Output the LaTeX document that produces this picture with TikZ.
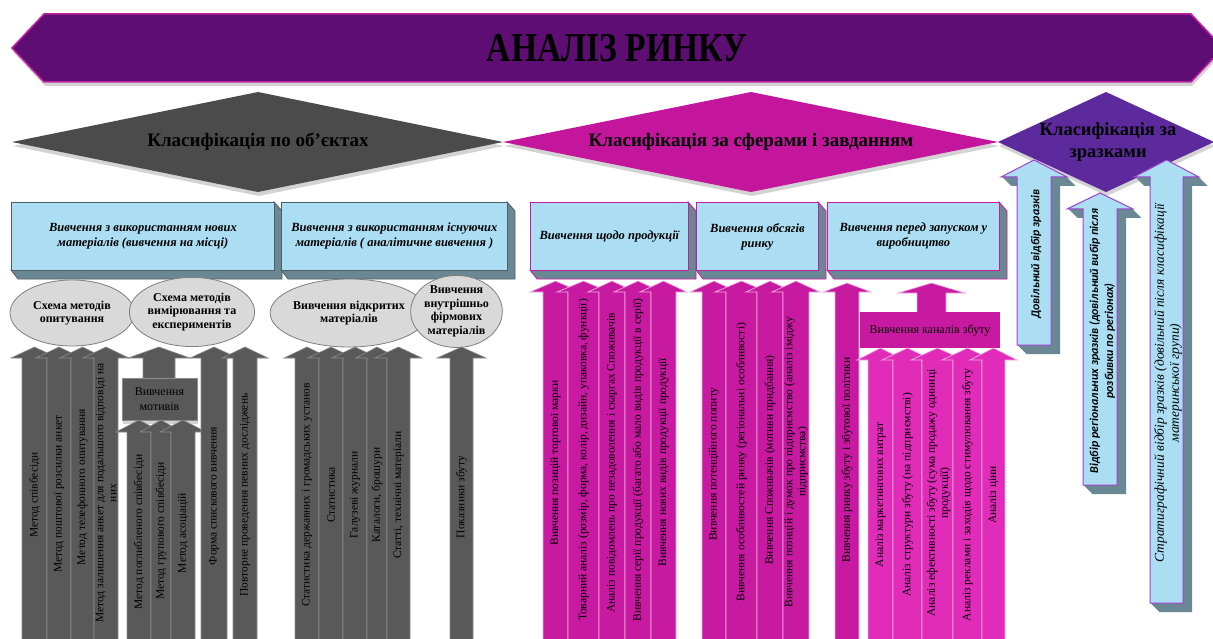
\documentclass[tikz,border=0pt]{standalone}
\usepackage{fontspec}
\setmainfont{Liberation Serif}
\newfontfamily\calib{Carlito}
\usetikzlibrary{shapes.geometric,shadows}
\definecolor{banner}{HTML}{5E0D73}
\definecolor{bannerb}{HTML}{C21FA6}
\definecolor{dgray}{HTML}{4B4B4B}
\definecolor{mag}{HTML}{C3169D}
\definecolor{viol}{HTML}{5C2A9D}
\definecolor{lblue}{HTML}{ABDEF2}
\definecolor{ext}{HTML}{6A8893}
\definecolor{agray}{HTML}{595959}
\definecolor{agrayb}{HTML}{8C8C8C}
\definecolor{amag}{HTML}{C81AA0}
\definecolor{amagb}{HTML}{EBB0E0}
\definecolor{amagl}{HTML}{E02CB8}
\definecolor{ellc}{HTML}{D9D9D9}
\definecolor{ellb}{HTML}{7F7F7F}
\definecolor{purb}{HTML}{A040D0}
\definecolor{boxb}{HTML}{4E5E64}
% block arrow pointing up: #1 style, #2 left x, #3 right x, #4 tip y, #5 shoulder y, #6 bottom y, #7 head overhang
\newcommand{\blockup}[7]{%
  \path[#1] (#2,#6) -- (#2,#5) -- ({#2-#7},#5) -- ({(#2+#3)/2},#4) -- ({#3+#7},#5) -- (#3,#5) -- (#3,#6) -- cycle;}
% 3D extrusion of a box: #1 x1, #2 y1, #3 x2, #4 y2, #5 border colour
\newcommand{\boxext}[5]{%
  \path[fill=ext,draw=#5,line width=0.8pt] (#3,#2) -- ({#3+8},{#2+9}) -- ({#3+8},{#4+9}) -- ({#1+7},{#4+9}) -- (#1,#4) -- (#3,#4) -- cycle;}
\tikzset{
  garrow/.style={fill=agray,draw=agrayb,line width=0.6pt},
  marrow/.style={fill=amag,draw=amagb,line width=0.7pt},
  larrow/.style={fill=amagl,draw=amagb,line width=0.7pt},
  atext/.style={font=\fontsize{11.5}{13}\selectfont,inner sep=0pt,align=center,text=black,rotate=90},
  bluebox/.style={anchor=north west,fill=lblue,line width=0.8pt,inner sep=2pt,align=center,
     font=\fontsize{12.5}{15}\selectfont\bfseries\itshape},
  ellnode/.style={ellipse,fill=ellc,draw=ellb,line width=0.8pt,inner sep=0pt,align=center,
     font=\fontsize{12}{13.5}\selectfont\bfseries},
  dtext/.style={font=\fontsize{19}{22}\selectfont\bfseries,align=center,text=black},
  rtext/.style={rotate=90,align=center,inner sep=0pt,text=black},
  shad/.style={drop shadow={opacity=0.35,shadow xshift=1pt,shadow yshift=-4pt}}
}
\begin{document}
\begin{tikzpicture}[x=1pt,y=-1pt]
\useasboundingbox (0,0) rectangle (1213,639);
\clip (0,0) rectangle (1213,639);
% banner
\path[fill=banner,draw=bannerb,line width=1.5pt,shad] (12,48) -- (44,14) -- (1191,14) -- (1223,48) -- (1191,82) -- (44,82) -- cycle;
\node (title) at (617,48) {\scalebox{0.82}[1]{\fontsize{41}{41}\selectfont\bfseries АНАЛІЗ РИНКУ}};
% diamonds
\path[fill=dgray,shad] (12,142) -- (258,92) -- (503,142) -- (258,192) -- cycle;
\path[fill=mag,shad] (503,142) -- (751,92) -- (998,142) -- (751,192) -- cycle;
\path[fill=viol,shad] (998,142) -- (1106,92) -- (1214,142) -- (1106,192) -- cycle;
\node[dtext] (d1) at (258,142) {Класифікація по об'єктах};
\node[dtext] (d2) at (751,142) {Класифікація за сферами і завданням};
\node[dtext,font=\fontsize{18.5}{22}\selectfont\bfseries] (d3) at (1108,142) {Класифікація за\\зразками};
% blue boxes
\boxext{11}{202}{274}{270}{boxb}
\node[bluebox,draw=boxb,minimum width=263pt,minimum height=68pt] (b1) at (11,202) {Вивчення з використанням нових\\матеріалів (вивчення на місці)};
\boxext{281}{202}{507}{270}{boxb}
\node[bluebox,draw=boxb,minimum width=226pt,minimum height=68pt] (b2) at (281,202) {Вивчення з використанням існуючих\\матеріалів ( аналітичне вивчення )};
\boxext{530}{202}{688}{270}{amag}
\node[bluebox,draw=amag,minimum width=158pt,minimum height=68pt] (b3) at (530,202) {Вивчення щодо продукції};
\boxext{696}{202}{818}{270}{amag}
\node[bluebox,draw=amag,minimum width=122pt,minimum height=68pt] (b4) at (696,202) {Вивчення обсягів\\ринку};
\boxext{827}{202}{999}{270}{amag}
\node[bluebox,draw=amag,minimum width=172pt,minimum height=68pt] (b5) at (827,202) {Вивчення перед запуском у\\виробництво};
% ellipses
\node[ellnode,minimum width=124pt,minimum height=66pt] (e1) at (72,313) {Схема методів\\опитування};
\node[ellnode,minimum width=117pt,minimum height=69pt] (e2) at (192,312) {Схема методів\\вимірювання та\\експериментів};
\node[ellnode,minimum width=138pt,minimum height=68pt] (e3) at (349,313) {Вивчення відкритих\\матеріалів};
\node[ellnode,minimum width=77pt,minimum height=69pt] (e4) at (456.5,311.5) {Вивчення\\внутрішньо\\фірмових\\матеріалів};
% gray arrows
\blockup{garrow}{22}{47}{347}{358}{645}{11}
\blockup{garrow}{47}{71}{347}{358}{645}{11}
\blockup{garrow}{71}{94}{347}{358}{645}{11}
\blockup{garrow}{94}{118}{347}{358}{645}{11}
\blockup{garrow}{143}{175}{347}{358}{380}{15}
\node[fill=agray,draw=agrayb,line width=0.6pt,shad,minimum width=75pt,minimum height=42pt,inner sep=0pt,align=center,font=\fontsize{12}{15}\selectfont] (mot) at (159.5,399) {Вивчення\\мотивів};
\blockup{garrow}{127}{151}{420}{432}{645}{11}
\blockup{garrow}{151}{171}{420}{432}{645}{11}
\blockup{garrow}{171}{195}{420}{432}{645}{11}
\blockup{garrow}{201}{227}{347}{358}{645}{11}
\blockup{garrow}{233}{257}{347}{358}{645}{11}
\blockup{garrow}{295}{319}{347}{358}{645}{11}
\blockup{garrow}{319}{343}{347}{358}{645}{11}
\blockup{garrow}{343}{367}{347}{358}{645}{11}
\blockup{garrow}{367}{387}{347}{358}{645}{11}
\blockup{garrow}{387}{410}{347}{358}{645}{12}
\blockup{garrow}{450}{473}{347}{358}{645}{13}
\node[atext] (g1) at (34.5,495) {Метод співбесіди};
\node[atext] (g2) at (59,494) {Метод поштової розсилки анкет};
\node[atext] (g3) at (82.5,487) {Метод телефонного опитування};
\node[atext] (g4) at (106,493) {Метод залишення анкет для подальшого відповіді на\\них};
\node[atext] (g6) at (139,532) {Метод поглибленого співбесіди};
\node[atext] (g7) at (161,531) {Метод групового співбесіди};
\node[atext] (g8) at (183,533) {Метод асоціацій};
\node[atext] (g9) at (214,496) {Форма спискового вивчення};
\node[atext] (g10) at (245,495) {Повторне проведення певних досліджень};
\node[atext] (g11) at (307,495) {Статистика державних і громадських установ};
\node[atext] (g12) at (331,495) {Статистика};
\node[atext] (g13) at (355,495) {Галузеві журнали};
\node[atext] (g14) at (377,495) {Каталоги, брошури};
\node[atext] (g15) at (398.5,495) {Статті, технічні матеріали};
\node[atext] (g16) at (461.5,497) {Показники збуту};
% magenta arrows: product
\blockup{marrow}{543}{568}{281}{292}{645}{13}
\blockup{marrow}{568}{599}{281}{292}{645}{11}
\blockup{marrow}{599}{625}{281}{292}{645}{11}
\blockup{marrow}{625}{651}{281}{292}{645}{11}
\blockup{marrow}{651}{676}{281}{292}{645}{11}
\node[atext] (m1) at (555.5,463) {Вивчення позицій торгової марки};
\node[atext] (m2) at (583.5,460) {Товарний аналіз (розмір, форма, колір, дизайн, упаковка, функції)};
\node[atext] (m3) at (612,463) {Аналіз повідомлень про незадоволення і скаргах Споживачів};
\node[atext] (m4) at (638,460) {Вивчення серії продукції (багато або мало видів продукції в серії)};
\node[atext] (m5) at (663.5,462) {Вивчення нових видів продукції продукції};
% volume
\blockup{marrow}{702}{726}{281}{292}{645}{12}
\blockup{marrow}{726}{757}{281}{292}{645}{11}
\blockup{marrow}{757}{783}{281}{292}{645}{11}
\blockup{marrow}{783}{809}{281}{292}{645}{11}
\node[atext] (v1) at (714,464) {Вивчення потенційного попиту};
\node[atext] (v2) at (741.5,462) {Вивчення особливостей ринку (регіональні особливості)};
\node[atext] (v3) at (770,460) {Вивчення Споживачів (мотиви придбання)};
\node[atext] (v4) at (796,462) {Вивчення позицій і думок про підприємство (аналіз іміджу\\підприємства)};
% production
\blockup{marrow}{835}{859}{283}{292}{645}{12}
\node[atext] (p1) at (847,460) {Вивчення ринку збуту і збутової політики};
\blockup{marrow}{917}{946}{283}{293}{314}{19}
\node[fill=amag,minimum width=140pt,minimum height=36pt,inner sep=0pt,font=\fontsize{12}{14}\selectfont] (chan) at (930,330) {Вивчення каналів збуту};
\blockup{larrow}{868}{893}{348}{360}{645}{11}
\blockup{larrow}{893}{922}{348}{360}{645}{11}
\blockup{larrow}{922}{953}{348}{360}{645}{11}
\blockup{larrow}{953}{982}{348}{360}{645}{11}
\blockup{larrow}{982}{1005}{348}{360}{645}{12}
\node[atext] (l1) at (880.5,495) {Аналіз маркетингових витрат};
\node[atext] (l2) at (907.5,495) {Аналіз структури збуту (на підприємстві)};
\node[atext] (l3) at (938.5,493) {Аналіз ефективності збуту (сума продажу одиниці\\продукції)};
\node[atext] (l4) at (967.5,495) {Аналіз реклами і заходів щодо стимулювання збуту};
\node[atext] (l5) at (993.5,495) {Аналіз ціни};
% right 3D arrows
\foreach \k in {1,...,9}{
  \blockup{fill=ext,shift={(\k,\k)}}{1017}{1051}{160}{177}{345}{16}
  \blockup{fill=ext,shift={(\k,\k)}}{1083}{1117}{193}{209}{485}{16}
  \blockup{fill=ext,shift={(\k,\k)}}{1150}{1183}{160}{177}{603}{16}
}
\blockup{fill=lblue,draw=purb,line width=1pt}{1017}{1051}{160}{177}{345}{16}
\blockup{fill=lblue,draw=purb,line width=1pt}{1083}{1117}{193}{209}{485}{16}
\blockup{fill=lblue,draw=purb,line width=1pt}{1150}{1183}{160}{177}{603}{16}
\node[rtext,font=\fontsize{12}{14}\selectfont\calib\bfseries\itshape] (ra) at (1036,254) {Довільний відбір зразків};
\node[rtext,font=\fontsize{12}{15}\selectfont\calib\bfseries\itshape] (rb) at (1102,341) {Відбір регіональних зразків (довільний вибір після\\розбивки по регіонах)};
\node[rtext,font=\fontsize{13.5}{15}\selectfont\itshape] (rc) at (1168,383) {Стратиграфічний відбір зразків (довільний після класифікації\\материнської групи)};
\end{tikzpicture}
\end{document}
